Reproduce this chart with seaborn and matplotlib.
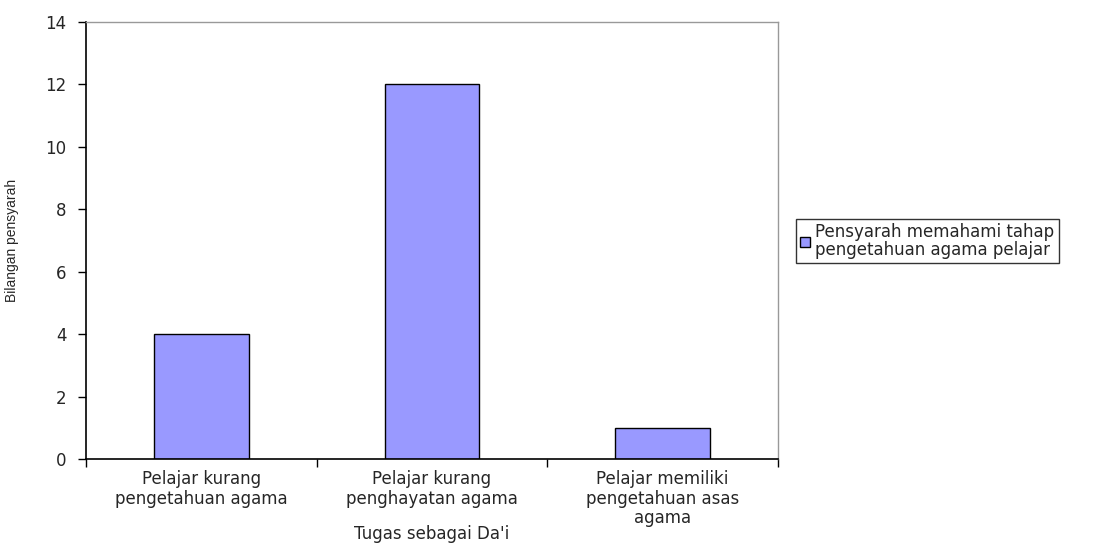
import seaborn as sns
import matplotlib.pyplot as plt
import pandas as pd

# Data
categories = [
    'Pelajar kurang\npengetahuan agama',
    'Pelajar kurang\npenghayatan agama',
    'Pelajar memiliki\npengetahuan asas\nagama',
]
values = [4, 12, 1]
series_name = 'Pensyarah memahami tahap\npengetahuan agama pelajar'
y_ticks = [0, 2, 4, 6, 8, 10, 12, 14]

df = pd.DataFrame({'Tugas': categories, 'Bilangan': values})

sns.set_theme(style='white')
plt.rcParams['font.family'] = ['DejaVu Sans']

fig = plt.figure(figsize=(10.95, 5.45), dpi=100)
ax = fig.add_axes([0.0785, 0.1578, 0.632, 0.8018])

sns.barplot(data=df, x='Tugas', y='Bilangan', color='#9999FF', saturation=1,
            width=0.41, edgecolor='black', linewidth=1.0, ax=ax,
            label=series_name)

ax.set_xlim(-0.5, 2.5)
ax.set_ylim(0, 14)
ax.set_yticks(y_ticks)
ax.tick_params(axis='y', which='major', direction='out', length=6, width=1,
               color='black', labelsize=12, pad=8, left=True)
ax.tick_params(axis='x', which='major', length=0, labelsize=12, pad=8)
ax.set_xticks([-0.5, 0.5, 1.5, 2.5], minor=True)
ax.tick_params(axis='x', which='minor', direction='out', length=6, width=1,
               color='black', bottom=True)
for lbl in ax.get_xticklabels():
    lbl.set_linespacing(1.1)

for side in ['left', 'bottom']:
    ax.spines[side].set_color('black')
    ax.spines[side].set_linewidth(1.2)
for side in ['top', 'right']:
    ax.spines[side].set_color('#999999')
    ax.spines[side].set_linewidth(1.0)

ax.set_xlabel("Tugas sebagai Da'i", fontsize=12)
ax.xaxis.set_label_coords(0.5, -0.172)
ax.xaxis.label.set_va('center')
ax.set_ylabel('Bilangan pensyarah', fontsize=10,
              family=['Liberation Sans Narrow', 'Liberation Sans'])
ax.yaxis.set_label_coords(-0.107, 0.5)
ax.yaxis.label.set_va('center')

if ax.get_legend():
    ax.get_legend().remove()
handles, labels = ax.get_legend_handles_labels()
leg = fig.legend(handles, labels, loc='center left', bbox_to_anchor=(0.727, 0.558),
                 fontsize=12, frameon=True, fancybox=False, edgecolor='black',
                 handlelength=0.6, handleheight=0.6, handletextpad=0.3,
                 borderpad=0.25, borderaxespad=0, labelspacing=0.2)
leg.get_frame().set_linewidth(1.0)
for t in leg.get_texts():
    t.set_linespacing(1.0)

fig.savefig('out.png', dpi=100)
